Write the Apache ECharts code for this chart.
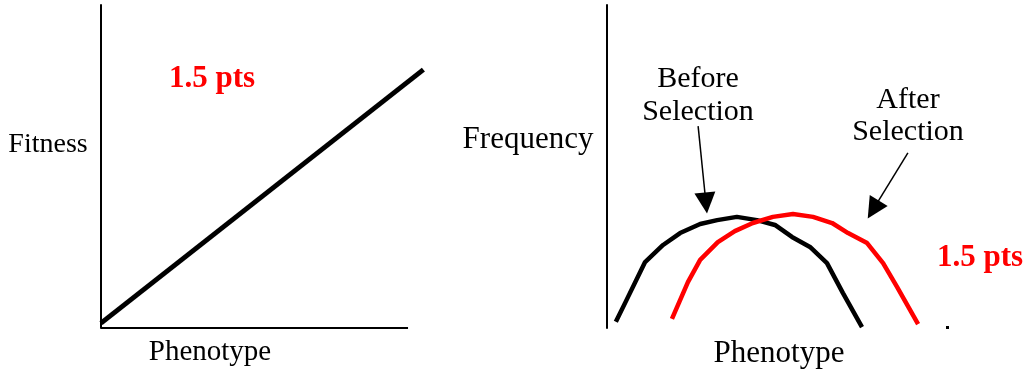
<!DOCTYPE html>
<html>
<head>
<meta charset="utf-8">
<script src="https://cdn.jsdelivr.net/npm/echarts@6/dist/echarts.min.js"></script>
<style>
html,body{margin:0;padding:0;background:#fff;}
#c{width:1028px;height:369px;}
</style>
</head>
<body>
<div id="c"></div>
<script>
// Left panel: fitness vs phenotype (straight line)
var fitnessPhenotype = [0, 105];
var fitnessValues = [1.5, 80];
var phenotypeAxisEnd = 100;

// Right panel: frequency distributions
var beforePhenotype = [2.6, 5.3, 11.2, 16.5, 21.5, 27.4, 32.4, 38.2, 44.1, 49.4, 54.4, 59.7, 64.7, 69.4, 75.0];
var beforeFreq      = [1.9, 7.7, 20.4, 25.7, 29.4, 32.2, 33.4, 34.4, 33.4, 31.9, 28.2, 25.1, 20.1, 10.8, 0.3];
var afterPhenotype  = [19.1, 23.8, 27.4, 32.6, 37.6, 42.9, 48.8, 54.7, 60.6, 66.2, 70.9, 76.5, 81.2, 85.3, 91.5];
var afterFreq       = [2.8, 14.2, 21.1, 26.6, 30.0, 32.5, 34.4, 35.3, 34.4, 32.5, 29.4, 26.3, 20.1, 12.7, 1.2];

// Annotation arrows [fromX, fromY, toX, toY] in data units
var beforeArrow = [26.8, 62.5, 29.1, 38.7];
var afterArrow  = [88.5, 54.2, 78.3, 36.7];

var labels = {
  fitness: 'Fitness', frequency: 'Frequency', phenotype: 'Phenotype',
  pts: '1.5 pts', before: 'Before\nSelection', after: 'After\nSelection'
};

function zip(a, b) { return a.map(function (v, i) { return [v, b[i]]; }); }

var FONT = '"Liberation Serif", "Times New Roman", serif';
function axisCommon(showLine, max) {
  return {
    type: 'value', min: 0, max: max || 100,
    axisLine: { show: showLine, lineStyle: { color: '#000', width: 2 } },
    axisTick: { show: false }, axisLabel: { show: false }, splitLine: { show: false }
  };
}
function txt(text, x, y, size, color, bold, lh) {
  return {
    type: 'text', x: x, y: y, z: 100,
    style: {
      text: text, fill: color || '#000', font: (bold ? 'bold ' : '') + size + 'px ' + FONT,
      textAlign: 'center', textVerticalAlign: 'middle', lineHeight: lh || size
    }
  };
}
function arrow(a) {
  return [{ coord: [a[0], a[1]] }, { coord: [a[2], a[3]] }];
}

var chart = echarts.init(document.getElementById('c'), null, { renderer: 'canvas' });
chart.setOption({
  backgroundColor: '#fff',
  animation: false,
  grid: [
    { left: 101, top: 5, width: 323, height: 323 },
    { left: 607, top: 5, width: 340, height: 323 }
  ],
  xAxis: [
    Object.assign(axisCommon(false, 105.2), { gridIndex: 0 }),
    Object.assign(axisCommon(false), { gridIndex: 1 })
  ],
  yAxis: [
    Object.assign(axisCommon(true), { gridIndex: 0 }),
    Object.assign(axisCommon(true), { gridIndex: 1 })
  ],
  series: [
    {
      type: 'line', xAxisIndex: 0, yAxisIndex: 0, clip: false,
      data: zip(fitnessPhenotype, fitnessValues), showSymbol: false, symbol: 'none',
      lineStyle: { color: '#000', width: 5 },
      markLine: {
        silent: true, symbol: 'none', label: { show: false },
        lineStyle: { color: '#000', width: 2, type: 'solid' },
        data: [[{ coord: [0, 0] }, { coord: [phenotypeAxisEnd, 0] }]]
      }
    },
    {
      type: 'line', xAxisIndex: 1, yAxisIndex: 1,
      data: zip(beforePhenotype, beforeFreq), symbol: 'none',
      lineStyle: { color: '#000', width: 4.5 },
      markLine: {
        silent: true, symbol: ['none', 'triangle'], symbolSize: 21,
        label: { show: false },
        lineStyle: { color: '#000', width: 1.5, type: 'solid' },
        data: [arrow(beforeArrow), arrow(afterArrow)]
      }
    },
    {
      type: 'line', xAxisIndex: 1, yAxisIndex: 1,
      data: zip(afterPhenotype, afterFreq), symbol: 'none',
      lineStyle: { color: '#ff0000', width: 4.5 }
    }
  ],
  graphic: [
    txt(labels.fitness, 48, 145, 28),
    txt(labels.pts, 212, 79, 31, '#ff0000', true),
    txt(labels.phenotype, 210, 352, 29),
    txt(labels.frequency, 528, 140, 31),
    txt(labels.before, 698, 96, 30, '#000', false, 33),
    txt(labels.after, 908, 116, 30, '#000', false, 32),
    txt(labels.pts, 980, 258, 31, '#ff0000', true),
    txt(labels.phenotype, 779, 354, 31),
    { type: 'rect', shape: { x: 946, y: 326, width: 3, height: 3 }, style: { fill: '#000' } }
  ]
});
</script>
</body>
</html>
